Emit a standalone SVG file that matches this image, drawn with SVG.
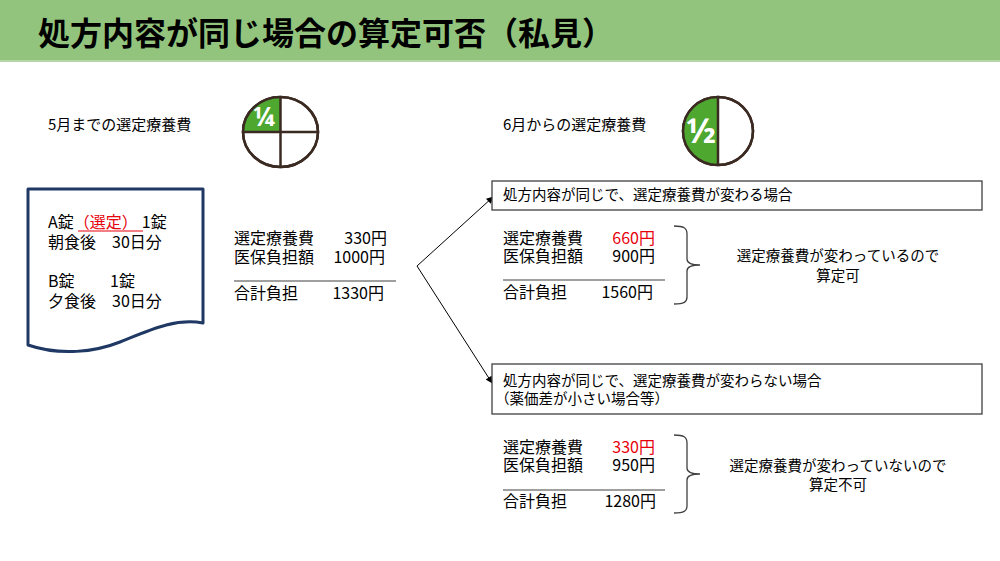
<svg xmlns="http://www.w3.org/2000/svg" width="1000" height="561" viewBox="0 0 1000 561">
<defs>
<style>
text{font-family:"Noto Sans CJK JP","Noto Sans",sans-serif;fill:#000;}
.t{font-size:16px;}
.s{font-size:14.5px;}
.r{fill:#e8000b;}
.e{text-anchor:end;}
.m{text-anchor:middle;}
.sep{stroke:#7f7f7f;stroke-width:1.5;}
.br{fill:none;stroke:#404040;stroke-width:1.3;}
.pie{stroke:#3b2a22;stroke-width:2.5;}
.box{fill:#fff;stroke:#404040;stroke-width:1.3;}
.frac{fill:#fff;font-weight:bold;font-family:"Noto Sans","DejaVu Sans",sans-serif;}
</style>
<marker id="ah" viewBox="0 0 10 10" refX="9" refY="5" markerWidth="9" markerHeight="7" orient="auto" markerUnits="userSpaceOnUse">
<path d="M0,0 L10,5 L0,10 Z" fill="#000"/>
</marker>
</defs>
<rect x="0" y="0" width="1000" height="561" fill="#fff"/>
<g id="title">
<rect x="0" y="0" width="1000" height="62" fill="#93c47d"/>
<rect x="0" y="60" width="1000" height="2" fill="#b5d6a6"/>
<text x="38" y="45" style="font-size:32px;font-weight:bold;">処方内容が同じ場合の算定可否（私見）</text>
</g>
<g id="label-may">
<text x="48" y="130" style="font-size:15px;">5月までの選定療養費</text>
</g>
<g id="pie-quarter">
<ellipse cx="280.5" cy="132" rx="37.5" ry="35" fill="#fff" class="pie"/>
<path d="M280.5,132 L243,132 A37.5,35 0 0 1 280.5,97 Z" fill="#4ea72e"/>
<ellipse cx="280.5" cy="132" rx="37.5" ry="35" fill="none" class="pie"/>
<line x1="280.5" y1="97" x2="280.5" y2="167" class="pie"/>
<line x1="243" y1="132" x2="318" y2="132" class="pie"/>
<text class="frac m" x="264" y="126" style="font-size:26px;">¼</text>
</g>
<g id="label-june">
<text x="503" y="130" style="font-size:15px;">6月からの選定療養費</text>
</g>
<g id="pie-half">
<ellipse cx="718" cy="131" rx="35" ry="34" fill="#fff" class="pie"/>
<path d="M718,97 A35,34 0 0 0 718,165 Z" fill="#4ea72e"/>
<ellipse cx="718" cy="131" rx="35" ry="34" fill="none" class="pie"/>
<line x1="718" y1="97" x2="718" y2="165" class="pie"/>
<text class="frac m" x="701" y="143" style="font-size:34px;">½</text>
</g>
<g id="prescription">
<path d="M28,189 H203 V323 C175,318 150,330 120,342 C95,352 60,356 28,345 Z" fill="#fff" stroke="#1f3864" stroke-width="3" stroke-linejoin="round"/>
<line x1="78" y1="231" x2="143" y2="231" stroke="#e8000b" stroke-width="1.2"/>
<text class="t"><tspan x="48" y="228">A錠</tspan><tspan class="r">（選定）</tspan><tspan dx="4">1錠</tspan><tspan x="48" y="248">朝食後　30日分</tspan><tspan x="48" y="287">B錠　　 1錠</tspan><tspan x="48" y="307">夕食後　30日分</tspan></text>
</g>
<g id="table-before">
<text class="t"><tspan x="234" y="244">選定療養費</tspan><tspan x="387" y="244" class="e">330円</tspan><tspan x="234" y="263">医保負担額</tspan><tspan x="385" y="263" class="e">1000円</tspan><tspan x="234" y="299">合計負担</tspan><tspan x="384" y="299" class="e">1330円</tspan></text>
<line x1="234" y1="281" x2="396" y2="281" class="sep"/>
</g>
<g id="connectors">
<line x1="417" y1="266" x2="493" y2="197" stroke="#000" stroke-width="1" marker-end="url(#ah)"/>
<line x1="417" y1="266" x2="492" y2="383" stroke="#000" stroke-width="1" marker-end="url(#ah)"/>
<path d="M674,226 C684,226 687,228 687,234 V259 C687,263 690,265 700,265 C690,265 687,267 687,271 V297 C687,302 684,304 674,304" class="br"/>
<path d="M674,435 C684,435 687,437 687,443 V468 C687,472 690,474 700,474 C690,474 687,476 687,480 V506 C687,511 684,513 674,513" class="br"/>
</g>
<g id="case-changes">
<rect x="492" y="181" width="490" height="29" class="box"/>
<text class="s" x="503" y="200">処方内容が同じで、選定療養費が変わる場合</text>
</g>
<g id="table-changes">
<text class="t"><tspan x="503" y="244">選定療養費</tspan><tspan x="655" y="244" class="e r">660円</tspan><tspan x="503" y="262">医保負担額</tspan><tspan x="655" y="262" class="e">900円</tspan><tspan x="503" y="298">合計負担</tspan><tspan x="653" y="298" class="e">1560円</tspan></text>
<line x1="503" y1="280" x2="665" y2="280" class="sep"/>
</g>
<g id="result-ok">
<text class="s m"><tspan x="838" y="261">選定療養費が変わっているので</tspan><tspan x="838" y="281">算定可</tspan></text>
</g>
<g id="case-same">
<rect x="492" y="364" width="490" height="50" class="box"/>
<text class="s"><tspan x="503" y="386">処方内容が同じで、選定療養費が変わらない場合</tspan><tspan x="495" y="404">（薬価差が小さい場合等）</tspan></text>
</g>
<g id="table-same">
<text class="t"><tspan x="503" y="453">選定療養費</tspan><tspan x="655" y="453" class="e r">330円</tspan><tspan x="503" y="471">医保負担額</tspan><tspan x="655" y="471" class="e">950円</tspan><tspan x="503" y="507">合計負担</tspan><tspan x="656" y="507" class="e">1280円</tspan></text>
<line x1="503" y1="490" x2="665" y2="490" class="sep"/>
</g>
<g id="result-ng">
<text class="s m"><tspan x="838" y="471">選定療養費が変わっていないので</tspan><tspan x="838" y="490">算定不可</tspan></text>
</g>
</svg>
